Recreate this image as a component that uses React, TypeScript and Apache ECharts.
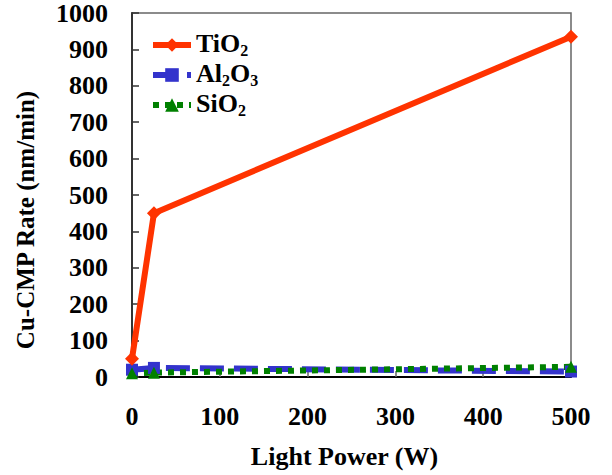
import React, { useEffect, useRef } from "react";
import * as echarts from "echarts";

const lightPower = [0, 25, 500];
const tio2 = [50, 450, 935];
const al2o3 = [20, 25, 15];
const sio2 = [10, 12, 28];
const xTicks = [0, 100, 200, 300, 400, 500];

const FONT = "Times New Roman, Liberation Serif, DejaVu Serif, serif";

const legendLabels: Record<string, string> = {
  TiO2: "{b|TiO}{s|2}",
  Al2O3: "{b|Al}{s|2}{b|O}{s|3}",
  SiO2: "{b|SiO}{s|2}",
};

function pairs(ys: number[]) {
  return lightPower.map((x, i) => [x, ys[i]]);
}

const textBase = {
  fontFamily: FONT,
  fontWeight: "bold",
  fontSize: 26,
  color: "#000",
};

export default function App() {
  const ref = useRef<HTMLDivElement>(null);
  useEffect(() => {
    document.body.style.margin = "0";
    if (!ref.current) return;
    const chart = echarts.init(ref.current, null, { renderer: "svg" });
    chart.setOption({
      animation: false,
      backgroundColor: "#ffffff",
      textStyle: { fontFamily: FONT },
      grid: {
        left: 132,
        right: 41,
        top: 13,
        bottom: 98,
        show: true,
        borderColor: "#666",
        borderWidth: 1.5,
        outerBoundsMode: "none",
      } as any,
      legend: {
        orient: "vertical",
        left: 145,
        top: 25,
        itemWidth: 38,
        itemHeight: 17,
        itemGap: 2,
        data: [
          { name: "TiO2", lineStyle: { width: 6 } },
          { name: "Al2O3", lineStyle: { width: 6 } },
          { name: "SiO2", lineStyle: { width: 6 } },
        ],
        formatter: (name: string) => legendLabels[name],
        textStyle: {
          ...textBase,
          rich: {
            b: {
              ...textBase,
              lineHeight: 26,
              padding: [0, 0, 2, 0],
              verticalAlign: "bottom",
            },
            s: {
              ...textBase,
              fontSize: 16,
              lineHeight: 15,
              verticalAlign: "bottom",
            },
          },
        },
      },
      xAxis: {
        type: "value",
        min: 0,
        max: 500,
        interval: 100,
        name: "Light Power (W)",
        nameLocation: "middle",
        nameGap: 66,
        nameTextStyle: {
          ...textBase,
          padding: [0, 14, 0, 0],
        },
        axisLine: { show: true, lineStyle: { color: "#000", width: 2 } },
        axisTick: { show: true, inside: true, length: 6, lineStyle: { color: "#666", width: 1.5 } },
        splitLine: { show: false },
        axisLabel: {
          ...textBase,
          margin: 26,
          formatter: (v: number) => String(v),
          customValues: xTicks,
        },
      },
      yAxis: {
        type: "value",
        min: 0,
        max: 1000,
        interval: 100,
        name: "Cu-CMP Rate (nm/min)",
        nameLocation: "middle",
        nameGap: 94,
        nameTextStyle: {
          ...textBase,
          fontSize: 25,
          padding: [0, 50, 0, 0],
        },
        axisLine: { show: true, lineStyle: { color: "#333", width: 2 } },
        axisTick: { show: true, inside: true, length: 7, lineStyle: { color: "#333", width: 1.5 } },
        splitLine: { show: false },
        axisLabel: {
          ...textBase,
          margin: 24,
          padding: [8, 0, 0, 0],
          formatter: (v: number) => String(v),
        },
      },
      series: [
        {
          name: "TiO2",
          type: "line",
          data: pairs(tio2),
          symbol: "diamond",
          symbolSize: 14,
          itemStyle: { color: "#ff3300" },
          lineStyle: { color: "#ff3300", width: 6 },
          z: 3,
        },
        {
          name: "Al2O3",
          type: "line",
          data: pairs(al2o3),
          symbol: "rect",
          symbolSize: 12,
          itemStyle: { color: "#3333cc" },
          lineStyle: { color: "#3333cc", width: 6, type: [24, 10] },
          z: 2,
        },
        {
          name: "SiO2",
          type: "line",
          data: pairs(sio2),
          symbol: "triangle",
          symbolSize: 12,
          itemStyle: { color: "#008000" },
          lineStyle: { color: "#008000", width: 6, type: [6, 6] },
          z: 2,
        },
      ],
    });
    return () => chart.dispose();
  }, []);
  return <div ref={ref} style={{ width: 612, height: 475 }} />;
}
